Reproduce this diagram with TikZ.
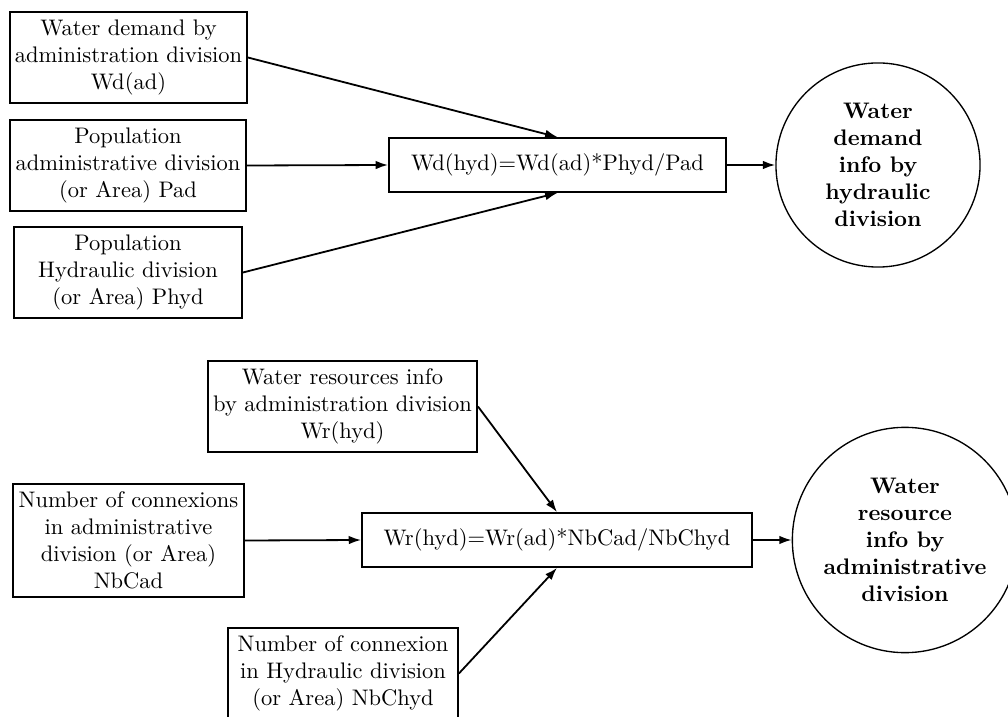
\documentclass[tikz,border=0pt]{standalone}
\usepackage{tikz}
\usetikzlibrary{arrows.meta}
\tikzset{
	infobox/.style={draw, align=center, inner sep=2pt, minimum height=40.4pt},
	calcbox/.style={draw, align=center, minimum width=#1, minimum height=24pt},
	resultnode/.style={draw, circle, align=center, font=\bfseries, minimum size=#1},
	flow/.style={-{Latex[length=5.5pt,width=3.8pt]}}
}
\begin{document}
\begin{tikzpicture}[x=0.4444pt, y=-0.4444pt, thick]
		\useasboundingbox (0,0) rectangle (1008,717);
		% water demand
		\node[infobox, minimum width=105.3pt] (wdad) at (128.5,57.5) {Water demand by\\administration division\\Wd(ad)};
		\node[infobox, minimum width=104.9pt] (pad) at (128,165.5) {Population\\administrative division\\(or Area) Pad};
		\node[infobox, minimum width=101.3pt] (phyd) at (128,272.5) {Population\\Hydraulic division\\(or Area) Phyd};
		\node[calcbox=149.8pt] (wdcalc) at (557.5,165) {Wd(hyd)=Wd(ad)*Phyd/Pad};
		\node[resultnode=90.7pt, semithick] (wdinfo) at (878,165) {Water\\demand\\info by\\hydraulic\\division};
		\draw[flow] (wdad.east) -- (wdcalc.north);
		\draw[flow] (pad.east) -- (wdcalc.west);
		\draw[flow] (phyd.east) -- (wdcalc.south);
		\draw[flow] (wdcalc.east) -- (wdinfo.west);
		% water resources
		\node[infobox, minimum width=119.6pt] (wrad) at (342.5,406.5) {Water resources info\\by administration division\\Wr(hyd)};
		\node[infobox, minimum width=102.7pt, minimum height=50.2pt] (nbcad) at (128.5,540.5) {Number of connexions\\in administrative\\division (or Area)\\NbCad};
		\node[infobox, minimum width=102.2pt] (nbchyd) at (343,673.5) {Number of connexion\\in Hydraulic division\\(or Area) NbChyd};
		\node[calcbox=173.3pt] (wrcalc) at (557,540) {Wr(hyd)=Wr(ad)*NbCad/NbChyd};
		\node[resultnode=99.5pt, semithick] (wrinfo) at (905,540) {Water\\resource\\info by\\administrative\\division};
		\draw[flow] (wrad.east) -- (wrcalc.north);
		\draw[flow] (nbcad.east) -- (wrcalc.west);
		\draw[flow] (nbchyd.east) -- (wrcalc.south);
		\draw[flow] (wrcalc.east) -- (wrinfo.west);
	\end{tikzpicture}
\end{document}
